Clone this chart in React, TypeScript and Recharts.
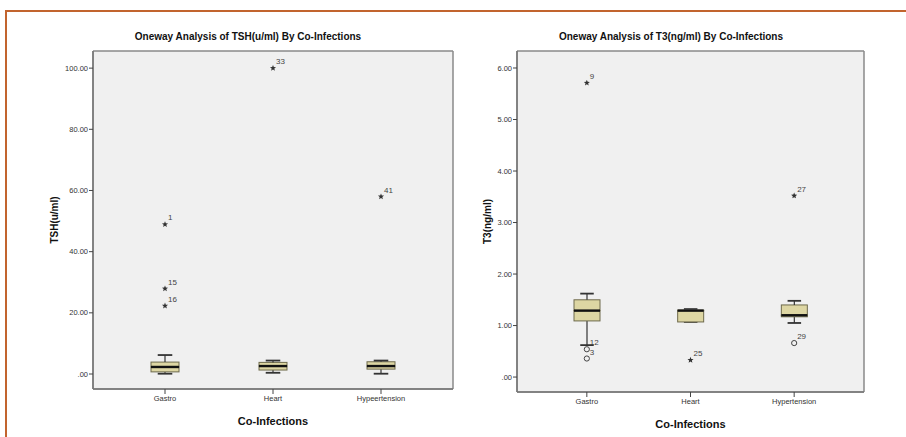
import { ComposedChart, Bar, Scatter, XAxis, YAxis, CartesianGrid, Label } from "recharts";

// categories (left panel keeps the original spelling)
const tshCategories = ["Gastro", "Heart", "Hypeertension"];
const t3Categories = ["Gastro", "Heart", "Hypertension"];

// TSH(u/ml) box statistics
const tshLow = [0.1, 0.4, 0.1];
const tshQ1 = [0.7, 1.3, 1.6];
const tshMedian = [2.3, 2.6, 2.6];
const tshQ3 = [3.9, 3.8, 4.0];
const tshHigh = [6.2, 4.4, 4.4];
const tshOutliers = [[48.9, 27.9, 22.3], [100], [58]];
const tshOutlierIds = [["1", "15", "16"], ["33"], ["41"]];
const tshOutlierKinds = [["star", "star", "star"], ["star"], ["star"]];
const tshTicks = [0, 20, 40, 60, 80, 100];

// T3(ng/ml) box statistics
const t3Low = [0.62, 1.07, 1.05];
const t3Q1 = [1.09, 1.07, 1.17];
const t3Median = [1.29, 1.29, 1.2];
const t3Q3 = [1.5, 1.3, 1.4];
const t3High = [1.62, 1.32, 1.48];
const t3Outliers = [[5.71, 0.54, 0.36], [0.33], [3.52, 0.66]];
const t3OutlierIds = [["9", "12", "3"], ["25"], ["27", "29"]];
const t3OutlierKinds = [["star", "circle", "circle"], ["star"], ["star", "circle"]];
const t3Ticks = [0, 1, 2, 3, 4, 5, 6];

const FONT = "'Liberation Sans', Arial, sans-serif";
const BOX_FILL = "#ddd6a3";
const BOX_STROKE = "#6e6a4c";
const LINE = "#333";

function buildRows(
  cats: string[], low: number[], q1: number[], med: number[], q3: number[], high: number[],
  outs: number[][], ids: string[][], kinds: string[][]
) {
  return cats.map((name, i) => {
    const row: any = {
      name,
      base: low[i],
      wLow: q1[i] - low[i],
      boxLo: med[i] - q1[i],
      boxHi: q3[i] - med[i],
      wHigh: high[i] - q3[i],
    };
    for (let k = 0; k < 3; k++) {
      row[`o${k}`] = outs[i][k] ?? null;
      row[`id${k}`] = ids[i][k] ?? "";
      row[`kind${k}`] = kinds[i][k] ?? "";
    }
    return row;
  });
}

const span = (p: any) => {
  const top = Math.min(p.y, p.y + p.height);
  const bot = Math.max(p.y, p.y + p.height);
  return { top, bot, cx: p.x + p.width / 2 };
};

const WhiskerLow = (p: any) => {
  if (p.height == null || isNaN(p.y)) return <g />;
  const { top, bot, cx } = span(p);
  const cap = p.width * 0.26;
  return (
    <g>
      <line x1={cx} x2={cx} y1={top} y2={bot} stroke={LINE} strokeWidth={1.2} />
      <line x1={cx - cap} x2={cx + cap} y1={bot} y2={bot} stroke={LINE} strokeWidth={1.8} />
    </g>
  );
};

const WhiskerHigh = (p: any) => {
  if (p.height == null || isNaN(p.y)) return <g />;
  const { top, bot, cx } = span(p);
  const cap = p.width * 0.26;
  return (
    <g>
      <line x1={cx} x2={cx} y1={top} y2={bot} stroke={LINE} strokeWidth={1.2} />
      <line x1={cx - cap} x2={cx + cap} y1={top} y2={top} stroke={LINE} strokeWidth={1.8} />
    </g>
  );
};

const BoxLower = (p: any) => {
  if (p.height == null || isNaN(p.y)) return <g />;
  const { top, bot } = span(p);
  return <rect x={p.x} y={top} width={p.width} height={bot - top} fill={BOX_FILL} stroke={BOX_STROKE} strokeWidth={1} />;
};

const BoxUpper = (p: any) => {
  if (p.height == null || isNaN(p.y)) return <g />;
  const { top, bot } = span(p);
  return (
    <g>
      <rect x={p.x} y={top} width={p.width} height={bot - top} fill={BOX_FILL} stroke={BOX_STROKE} strokeWidth={1} />
      <line x1={p.x} x2={p.x + p.width} y1={bot} y2={bot} stroke="#111" strokeWidth={2.4} />
    </g>
  );
};

const makeOutlier = (k: number) => (p: any) => {
  const v = p.payload ? p.payload[`o${k}`] : null;
  if (v == null || isNaN(p.cy)) return <g />;
  const { cx, cy } = p;
  const kind = p.payload[`kind${k}`];
  const id = p.payload[`id${k}`];
  let mark;
  if (kind === "circle") {
    mark = <circle cx={cx} cy={cy} r={2.6} fill="none" stroke="#444" strokeWidth={1} />;
  } else {
    const pts: string[] = [];
    for (let j = 0; j < 10; j++) {
      const r = j % 2 === 0 ? 3.2 : 1.4;
      const a = -Math.PI / 2 + (j * Math.PI) / 5;
      pts.push(`${cx + r * Math.cos(a)},${cy + r * Math.sin(a)}`);
    }
    mark = <polygon points={pts.join(" ")} fill="#333" />;
  }
  return (
    <g>
      {mark}
      <text x={cx + 3} y={cy - 4} fontSize={8} fill="#444" fontFamily={FONT}>{id}</text>
    </g>
  );
};

// plot frame: grid lines at the edges of the plot area only
const frameH = ({ offset }: any) => [offset.top, offset.top + offset.height];
const frameV = ({ offset }: any) => [offset.left, offset.left + offset.width];

interface PanelProps {
  rows: any[];
  width: number;
  height: number;
  yAxisWidth: number;
  marginRight: number;
  marginTop: number;
  xAxisHeight: number;
  yDomain: [number, number];
  yTicks: number[];
  barSize: number;
  yLabel: string;
  yLabelX: number;
  xLabelOffset: number;
}

function BoxPanel(props: PanelProps) {
  const fmt = (v: number) => (v === 0 ? ".00" : v.toFixed(2));
  return (
    <ComposedChart
      width={props.width}
      height={props.height}
      data={props.rows}
      margin={{ top: props.marginTop, right: props.marginRight, bottom: 0, left: 0 }}
      style={{ fontFamily: FONT }}
    >
      <CartesianGrid
        fill="#f0f0f0"
        stroke="#8a8a8a"
        strokeWidth={1.5}
        horizontalCoordinatesGenerator={frameH}
        verticalCoordinatesGenerator={frameV}
      />
      <XAxis
        dataKey="name"
        type="category"
        height={props.xAxisHeight}
        padding={{ left: 18, right: 18 }}
        interval={0}
        tickSize={5}
        tickMargin={2}
        axisLine={{ stroke: "#777", strokeWidth: 1.5 }}
        tickLine={{ stroke: "#444" }}
        tick={{ fontSize: 7.5, fill: "#333" }}
      >
        <Label value="Co-Infections" position="insideBottom" offset={props.xLabelOffset} style={{ fontSize: 11, fontWeight: 700, fill: "#111" }} />
      </XAxis>
      <YAxis
        type="number"
        width={props.yAxisWidth}
        domain={props.yDomain}
        allowDataOverflow
        ticks={props.yTicks}
        tickFormatter={fmt}
        tickSize={4}
        tickMargin={1}
        axisLine={{ stroke: "#777", strokeWidth: 1.5 }}
        tickLine={{ stroke: "#444" }}
        tick={{ fontSize: 7.5, fill: "#333" }}
      >
        <Label
          value={props.yLabel}
          content={(lp: any) => {
            const vb = lp.viewBox;
            const x = vb.x + props.yLabelX;
            const y = vb.y + vb.height / 2;
            return (
              <text x={x} y={y} transform={`rotate(-90, ${x}, ${y})`} textAnchor="middle" dominantBaseline="central" fontSize={10} fontWeight={700} fill="#111" fontFamily={FONT}>
                {lp.value}
              </text>
            );
          }}
        />
      </YAxis>
      <Bar dataKey="base" stackId="s" fill="transparent" barSize={props.barSize} isAnimationActive={false} />
      <Bar dataKey="wLow" stackId="s" barSize={props.barSize} shape={WhiskerLow} isAnimationActive={false} />
      <Bar dataKey="boxLo" stackId="s" barSize={props.barSize} shape={BoxLower} isAnimationActive={false} />
      <Bar dataKey="boxHi" stackId="s" barSize={props.barSize} shape={BoxUpper} isAnimationActive={false} />
      <Bar dataKey="wHigh" stackId="s" barSize={props.barSize} shape={WhiskerHigh} isAnimationActive={false} />
      <Scatter dataKey="o0" shape={makeOutlier(0)} isAnimationActive={false} />
      <Scatter dataKey="o1" shape={makeOutlier(1)} isAnimationActive={false} />
      <Scatter dataKey="o2" shape={makeOutlier(2)} isAnimationActive={false} />
    </ComposedChart>
  );
}

const titleStyle = (left: number): React.CSSProperties => ({
  position: "absolute",
  left,
  top: 31,
  width: 300,
  textAlign: "center",
  fontFamily: FONT,
  fontSize: 10,
  fontWeight: 700,
  lineHeight: "12px",
  color: "#111",
});

export default function App() {
  const tshRows = buildRows(tshCategories, tshLow, tshQ1, tshMedian, tshQ3, tshHigh, tshOutliers, tshOutlierIds, tshOutlierKinds);
  const t3Rows = buildRows(t3Categories, t3Low, t3Q1, t3Median, t3Q3, t3High, t3Outliers, t3OutlierIds, t3OutlierKinds);

  return (
    <div style={{ position: "absolute", left: 0, top: 0, width: 906, height: 437, background: "#fff", overflow: "hidden" }}>
      <div style={{ position: "absolute", left: 5, top: 10, width: 910, height: 440, borderTop: "2px solid #c2642e", borderLeft: "2px solid #c2642e" }} />
      <div style={titleStyle(98)}>Oneway Analysis of TSH(u/ml) By Co-Infections</div>
      <div style={titleStyle(521)}>Oneway Analysis of T3(ng/ml) By Co-Infections</div>
      <div style={{ position: "absolute", left: 0, top: 0 }}>
        <BoxPanel
          rows={tshRows}
          width={470}
          height={437}
          yAxisWidth={93}
          marginRight={17}
          marginTop={51}
          xAxisHeight={48}
          yDomain={[-4.9, 105.6]}
          yTicks={tshTicks}
          barSize={28}
          yLabel="TSH(u/ml)"
          yLabelX={54}
          xLabelOffset={12}
        />
      </div>
      <div style={{ position: "absolute", left: 450, top: 0 }}>
        <BoxPanel
          rows={t3Rows}
          width={456}
          height={437}
          yAxisWidth={67}
          marginRight={42}
          marginTop={51}
          xAxisHeight={45}
          yDomain={[-0.29, 6.33]}
          yTicks={t3Ticks}
          barSize={26}
          yLabel="T3(ng/ml)"
          yLabelX={37}
          xLabelOffset={9}
        />
      </div>
    </div>
  );
}
